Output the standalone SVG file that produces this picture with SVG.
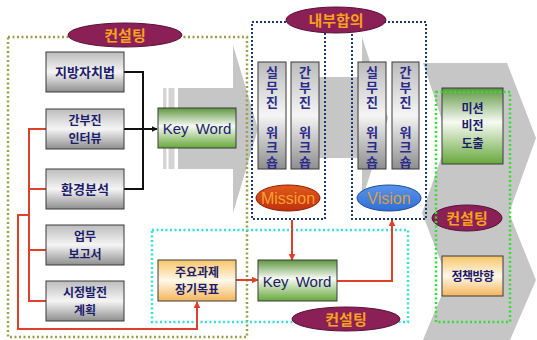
<svg xmlns="http://www.w3.org/2000/svg" width="537" height="340" viewBox="0 0 537 340">
<defs>
<linearGradient id="gGrey" x1="0" y1="0" x2="0" y2="1"><stop offset="0" stop-color="#bcbcbc"/><stop offset="0.5" stop-color="#f5f5f5"/><stop offset="1" stop-color="#8e8e8e"/></linearGradient>
<linearGradient id="gGreen" x1="0" y1="0" x2="0" y2="1"><stop offset="0" stop-color="#5e9640"/><stop offset="0.45" stop-color="#f7faf4"/><stop offset="1" stop-color="#66a83a"/></linearGradient>
<linearGradient id="gOrange" x1="0" y1="0" x2="0" y2="1"><stop offset="0" stop-color="#f7c566"/><stop offset="0.5" stop-color="#fff8ea"/><stop offset="1" stop-color="#f4b55a"/></linearGradient>
<linearGradient id="gMission" x1="0" y1="0" x2="0" y2="1"><stop offset="0" stop-color="#e05a1c"/><stop offset="1" stop-color="#c0300c"/></linearGradient>
<linearGradient id="gVision" x1="0" y1="0" x2="0" y2="1"><stop offset="0" stop-color="#5a94ea"/><stop offset="1" stop-color="#2f6fd6"/></linearGradient>
<marker id="aBlack" viewBox="0 0 10 10" refX="9" refY="5" markerWidth="6" markerHeight="6" markerUnits="userSpaceOnUse" orient="auto"><path d="M0,0 L10,5 L0,10 z" fill="#111"/></marker>
<marker id="aRed" viewBox="0 0 10 10" refX="9" refY="5" markerWidth="7" markerHeight="7" markerUnits="userSpaceOnUse" orient="auto"><path d="M0,0 L10,5 L0,10 z" fill="#e0402a"/></marker>
</defs>
<style>
.box{stroke:#3a3a3a;stroke-width:1}
.grey{fill:url(#gGrey)}
.green{fill:url(#gGreen)}
.orange{fill:url(#gOrange)}
.bg{fill:#c6c6c6}
.stripe{fill:#d4d4d4}
.t{font-family:"Noto Sans CJK KR","Liberation Sans",sans-serif;font-weight:bold;fill:#1c1c6b;text-anchor:middle}
.kw{font-family:"Liberation Sans",Arial,sans-serif;font-size:15px;fill:#1c1c6b;text-anchor:middle;word-spacing:3px}
.v{font-family:"Noto Sans CJK KR",sans-serif;font-weight:bold;font-size:13px;fill:#2a2a8a;writing-mode:vertical-rl;letter-spacing:2px}
.ell{fill:#8a2056;stroke:#5a0f38;stroke-width:1}
.et{font-family:"Noto Sans CJK KR",sans-serif;font-weight:bold;font-size:15px;fill:#f7a21b;text-anchor:middle}
.en{font-family:"Liberation Sans",Arial,sans-serif;font-size:16px;text-anchor:middle}
.olive{fill:none;stroke:#9aa04a;stroke-width:2.5;stroke-dasharray:2 2.5}
.blue{fill:none;stroke:#1f3a6e;stroke-width:2;stroke-dasharray:2 2}
.cyan{fill:none;stroke:#35e0e0;stroke-width:2.5;stroke-dasharray:2 2.5}
.lgreen{fill:none;stroke:#33dd33;stroke-width:2.5;stroke-dasharray:2 2.5}
.red{fill:none;stroke:#e0402a;stroke-width:2}
.blk{fill:none;stroke:#111;stroke-width:2}
</style>

<g id="background-arrows">
<polygon class="bg" points="423,63 507,63 536,138 509,213 422,213 448,138"/>
<polygon class="bg" points="422,213 509,213 536,280 507,347 420,347 448,280"/>
<rect class="stripe" x="163" y="88" width="3.5" height="81"/>
<rect class="stripe" x="168.5" y="88" width="6" height="81"/>
<rect class="bg" x="178" y="88" width="56" height="81"/>
<polygon class="bg" points="233,45 258,129 233,213"/>
<rect class="bg" x="300" y="77" width="63" height="81"/>
<polygon class="bg" points="362,37 388,118 362,200"/>
</g>

<g id="frames">
<rect class="olive" x="8" y="37" width="239" height="300"/>
<rect class="cyan" x="152" y="230" width="256" height="92"/>
<path class="blue" d="M252,22 H426"/>
<rect class="blue" x="252" y="22" width="73" height="197"/>
<rect class="blue" x="352" y="22" width="74" height="197"/>
</g>

<g id="connectors">
<path class="blk" d="M124,72 H143 V189 H124"/>
<path class="blk" d="M124,129 H157" marker-end="url(#aBlack)"/>
<path class="red" d="M46,129 H29 V301 H46 M29,189 H46 M29,250 H46"/>
<path class="red" d="M29,215 H18 V329 H197 V302" marker-end="url(#aRed)"/>
<path class="red" d="M236,280 H258" marker-end="url(#aRed)"/>
<path class="red" d="M292,220 V260" marker-end="url(#aRed)"/>
<path class="red" d="M337,281 H392 V220" marker-end="url(#aRed)"/>
</g>

<g id="n-jibang"><rect class="box grey" x="46" y="52" width="78" height="40"/><text class="t" x="85" y="76.5" font-size="13">지방자치법</text></g>
<g id="n-interview"><rect class="box grey" x="46" y="109" width="78" height="40"/><text class="t" x="85" y="125" font-size="12">간부진<tspan x="85" dy="17.5">인터뷰</tspan></text></g>
<g id="n-env"><rect class="box grey" x="46" y="169" width="78" height="40"/><text class="t" x="85" y="193.5" font-size="13">환경분석</text></g>
<g id="n-report"><rect class="box grey" x="46" y="225" width="78" height="40"/><text class="t" x="85" y="241" font-size="12">업무<tspan x="85" dy="17.5">보고서</tspan></text></g>
<g id="n-plan"><rect class="box grey" x="46" y="281" width="78" height="40"/><text class="t" x="85" y="297" font-size="12">시정발전<tspan x="85" dy="17.5">계획</tspan></text></g>

<g id="n-keyword1"><rect class="box green" x="158" y="108" width="78" height="40"/><text class="kw" x="197" y="134">Key Word</text></g>
<g id="n-goal"><rect class="box orange" x="158" y="260" width="78" height="41"/><text class="t" x="197" y="276.5" font-size="12" font-weight="normal">주요과제<tspan x="197" dy="17.5">장기목표</tspan></text></g>
<g id="n-keyword2"><rect class="box green" x="258" y="260" width="79" height="41"/><text class="kw" x="297" y="287">Key Word</text></g>

<g id="n-ws1"><rect class="box grey" x="258" y="62" width="28" height="107"/><text class="v" x="272" y="65.5">실무진　워크숍</text></g>
<g id="n-ws2"><rect class="box grey" x="291" y="62" width="28" height="107"/><text class="v" x="305" y="65.5">간부진　워크숍</text></g>
<g id="n-ws3"><rect class="box grey" x="358" y="62" width="28" height="107"/><text class="v" x="372" y="65.5">실무진　워크숍</text></g>
<g id="n-ws4"><rect class="box grey" x="392" y="62" width="27" height="107"/><text class="v" x="405.5" y="65.5">간부진　워크숍</text></g>

<g id="n-mission"><ellipse cx="288" cy="198" rx="32" ry="13" fill="url(#gMission)" stroke="#8a2008"/><text class="en" x="288" y="204" fill="#f8a030">Mission</text></g>
<g id="n-vision"><ellipse cx="389" cy="198" rx="32" ry="13" fill="url(#gVision)" stroke="#1e4a9a"/><text class="en" x="389" y="204" fill="#d9a040">Vision</text></g>

<g id="n-missionvision"><rect class="box green" x="442" y="88" width="61" height="76"/><text class="t" x="472.5" y="113" font-size="12">미션<tspan x="472.5" dy="17.4">비전</tspan><tspan x="472.5" dy="17.4">도출</tspan></text></g>
<g id="n-policy"><rect class="box orange" x="442" y="256" width="61" height="40"/><text class="t" x="472.5" y="280.5" font-size="12" letter-spacing="-0.5">정책방향</text></g>

<g id="n-consult-top"><ellipse class="ell" cx="125" cy="35" rx="57" ry="12"/><text class="et" x="125" y="40.5">컨설팅</text></g>
<g id="n-internal"><ellipse class="ell" cx="336" cy="20" rx="50" ry="13"/><text class="et" x="336" y="25.5">내부합의</text></g>
<g id="n-consult-bottom"><ellipse class="ell" cx="346" cy="319" rx="54" ry="12"/><text class="et" x="346" y="324.5">컨설팅</text></g>
<g id="n-consult-right"><ellipse class="ell" cx="467" cy="218" rx="35" ry="13"/><text class="et" x="467" y="223.5">컨설팅</text></g>

<g id="frame-right"><rect class="lgreen" x="436" y="92" width="74" height="230"/></g>
</svg>
